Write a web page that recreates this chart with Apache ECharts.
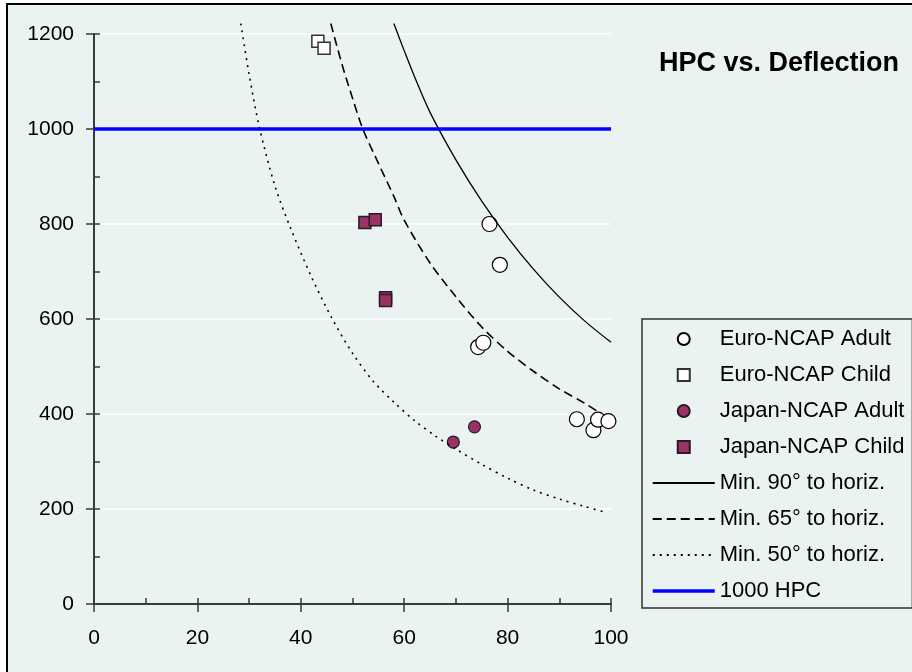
<!DOCTYPE html>
<html>
<head>
<meta charset="utf-8">
<title>HPC vs. Deflection</title>
<script src="https://cdn.jsdelivr.net/npm/echarts@6/dist/echarts.min.js"></script>
<style>
  html, body { margin: 0; padding: 0; background: #fff; }
  #chart { width: 912px; height: 672px; }
</style>
</head>
<body>
<div id="chart"></div>
<script>
// measured points (deflection mm, HPC)
var euroAdultX = [76.5, 78.5, 74.3, 75.3, 93.4, 96.6, 97.5, 99.5];
var euroAdultY = [800, 714, 541, 550, 389, 366, 388, 385];
var euroChildX = [43.3, 44.5];
var euroChildY = [1185, 1170];
var japanAdultX = [69.5, 73.6];
var japanAdultY = [341, 373];
var japanChildX = [52.4, 54.4, 56.4, 56.4];
var japanChildY = [803, 809, 645, 639];

// limit curves
var min90X = [58, 60, 62, 65, 70, 75, 80, 85, 90, 95, 100];
var min90Y = [1222, 1165, 1110, 1035, 935, 848, 772, 705, 646, 595, 551];
var min65X = [45.8, 48, 50, 52, 55, 58, 60, 65, 70, 75, 80, 85, 90, 95, 98];
var min65Y = [1222, 1135, 1065, 1000, 928, 858, 808, 718, 647, 583, 532, 490, 453, 422, 401];
var min50X = [28.4, 30, 32, 35, 38, 42, 46, 50, 54, 58, 62, 66, 70, 75, 80, 85, 90, 95, 99];
var min50Y = [1222, 1115, 1003, 880, 792, 690, 602, 528, 469, 425, 386, 354, 326, 294, 265, 240, 221, 205, 193];
var hpcLimitX = [0, 100];
var hpcLimitY = [1000, 1000];

function pairs(xs, ys) {
    var out = [];
    for (var i = 0; i < xs.length; i++) {
        out.push([xs[i], ys[i]]);
    }
    return out;
}

var font = '"Liberation Sans", Arial, sans-serif';
var axisColor = '#3a3a3a';
var squareIcon = 'path://M0,0L10,0L10,10L0,10Z';
var noMarker = { opacity: 0 };

var chart = echarts.init(document.getElementById('chart'));

var option = {
    animation: false,
    backgroundColor: '#ffffff',
    textStyle: { fontFamily: font },
    graphic: [{
        type: 'rect',
        z: -100,
        silent: true,
        shape: { x: 7, y: 4, width: 1000, height: 1000 },
        style: { fill: '#EAF3F2', stroke: '#000', lineWidth: 2 }
    }],
    title: {
        text: 'HPC vs. Deflection',
        left: 654,
        top: 45,
        textStyle: { fontFamily: font, fontSize: 27, fontWeight: 'bold', color: '#000' }
    },
    grid: { left: 94, right: 301, top: 34, bottom: 68 },
    legend: {
        orient: 'vertical',
        left: 642,
        top: 319,
        padding: [9, 8, 6, 9],
        itemWidth: 62,
        itemHeight: 12,
        itemGap: 14,
        symbolKeepAspect: true,
        backgroundColor: '#EAF3F2',
        borderColor: '#333',
        borderWidth: 1.5,
        textStyle: { fontFamily: font, fontSize: 22, lineHeight: 22, color: '#000' },
        data: [
            { name: 'Euro-NCAP Adult', icon: 'circle' },
            { name: 'Euro-NCAP Child', icon: squareIcon },
            { name: 'Japan-NCAP Adult', icon: 'circle' },
            { name: 'Japan-NCAP Child', icon: squareIcon },
            { name: 'Min. 90\u00b0 to horiz.', itemStyle: noMarker },
            { name: 'Min. 65\u00b0 to horiz.', itemStyle: noMarker },
            { name: 'Min. 50\u00b0 to horiz.', itemStyle: noMarker },
            { name: '1000 HPC', itemStyle: noMarker, lineStyle: { width: 3.5 } }
        ]
    },
    xAxis: [{
        type: 'value',
        min: 0, max: 100, interval: 20,
        position: 'bottom',
        axisLine: { lineStyle: { color: axisColor, width: 2 } },
        axisTick: { inside: false, length: 8, lineStyle: { color: axisColor, width: 1.5 } },
        axisLabel: { margin: 24, fontSize: 21, color: '#000', fontFamily: font },
        splitLine: { show: false }
    }, {
        // minor ticks pointing inward
        type: 'value',
        min: 0, max: 100, interval: 10,
        position: 'bottom',
        axisLine: { show: false },
        axisTick: { inside: true, length: 6, lineStyle: { color: axisColor, width: 1.5 } },
        axisLabel: { show: false },
        splitLine: { show: false }
    }],
    yAxis: [{
        type: 'value',
        min: 0, max: 1200, interval: 200,
        position: 'left',
        axisLine: { show: true, lineStyle: { color: axisColor, width: 2 } },
        axisTick: { show: true, inside: false, length: 8, lineStyle: { color: axisColor, width: 1.5 } },
        axisLabel: {
            margin: 20, fontSize: 21, color: '#000', fontFamily: font,
            formatter: function (v) { return String(v); }
        },
        splitLine: { show: true, lineStyle: { color: '#ffffff', width: 1.5 } }
    }, {
        type: 'value',
        min: 0, max: 1200, interval: 100,
        position: 'left',
        axisLine: { show: false },
        axisTick: { show: true, inside: true, length: 6, lineStyle: { color: axisColor, width: 1.5 } },
        axisLabel: { show: false },
        splitLine: { show: false }
    }],
    series: [{
        name: 'Min. 90\u00b0 to horiz.',
        type: 'line',
        clip: false,
        symbol: 'none',
        smooth: 0.3,
        lineStyle: { color: '#000', width: 1.3, type: 'solid' },
        itemStyle: { color: '#000' },
        data: pairs(min90X, min90Y)
    }, {
        name: 'Min. 65\u00b0 to horiz.',
        type: 'line',
        clip: false,
        symbol: 'none',
        smooth: 0.3,
        lineStyle: { color: '#000', width: 1.6, type: [9, 5] },
        itemStyle: { color: '#000' },
        data: pairs(min65X, min65Y)
    }, {
        name: 'Min. 50\u00b0 to horiz.',
        type: 'line',
        clip: false,
        symbol: 'none',
        smooth: 0.3,
        lineStyle: { color: '#000', width: 1.6, type: [2, 5] },
        itemStyle: { color: '#000' },
        data: pairs(min50X, min50Y)
    }, {
        name: '1000 HPC',
        type: 'line',
        clip: false,
        symbol: 'none',
        lineStyle: { color: '#0000FF', width: 3.5 },
        itemStyle: { color: '#0000FF' },
        data: pairs(hpcLimitX, hpcLimitY)
    }, {
        name: 'Euro-NCAP Child',
        type: 'scatter',
        symbol: 'rect',
        symbolSize: 12,
        itemStyle: { color: '#ffffff', borderColor: '#333', borderWidth: 1.5, opacity: 1 },
        data: pairs(euroChildX, euroChildY)
    }, {
        name: 'Japan-NCAP Child',
        type: 'scatter',
        symbol: 'rect',
        symbolSize: 12,
        itemStyle: { color: '#993366', borderColor: '#2a1a22', borderWidth: 1.5, opacity: 1 },
        data: pairs(japanChildX, japanChildY)
    }, {
        name: 'Japan-NCAP Adult',
        type: 'scatter',
        symbol: 'circle',
        symbolSize: 12,
        itemStyle: { color: '#993366', borderColor: '#2a1a22', borderWidth: 1.2, opacity: 1 },
        data: pairs(japanAdultX, japanAdultY)
    }, {
        name: 'Euro-NCAP Adult',
        type: 'scatter',
        symbol: 'circle',
        symbolSize: 15,
        itemStyle: { color: '#ffffff', borderColor: '#000', borderWidth: 1.2, opacity: 1 },
        data: pairs(euroAdultX, euroAdultY)
    }]
};

chart.setOption(option);
</script>
</body>
</html>
